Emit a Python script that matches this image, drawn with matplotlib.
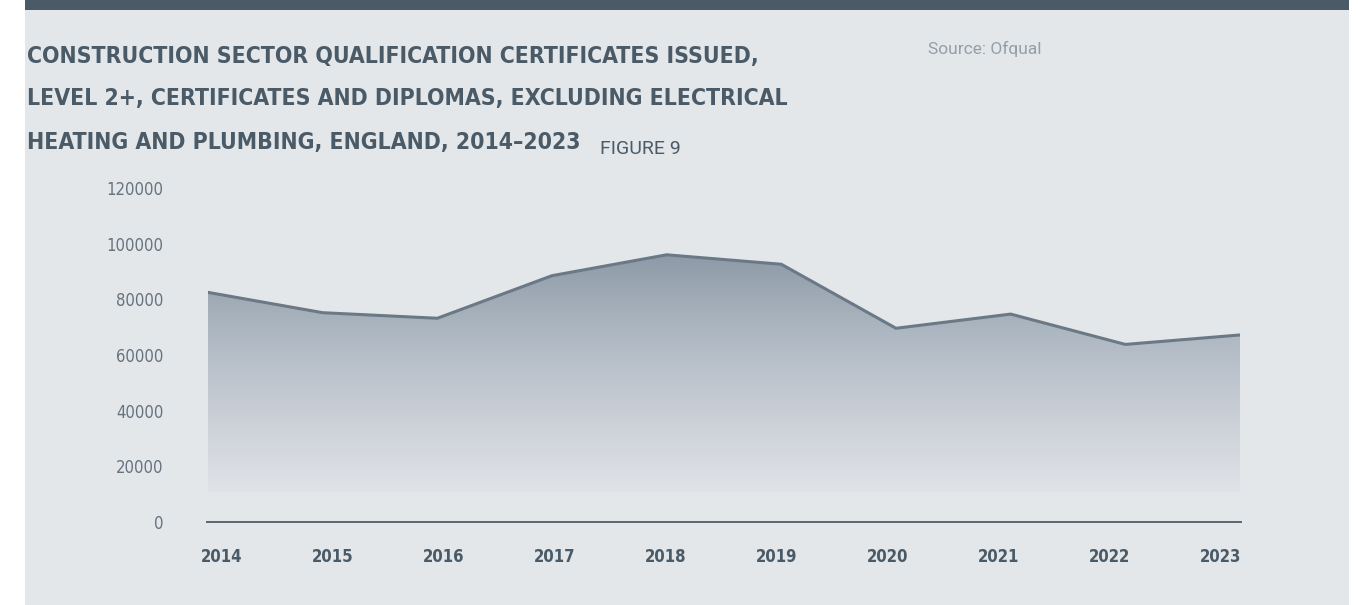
import numpy as np
import matplotlib
matplotlib.use("Agg")
from matplotlib import pyplot as plt
from matplotlib.patches import Rectangle
from matplotlib.colors import LinearSegmentedColormap

# data
years = [2014, 2015, 2016, 2017, 2018, 2019, 2020, 2021, 2022, 2023]
certificates = [82500, 75200, 73200, 88500, 96000, 92600, 69600, 74700, 63800, 67200]
y_ticks = [0, 20000, 40000, 60000, 80000, 100000, 120000]

title_lines = ["CONSTRUCTION SECTOR QUALIFICATION CERTIFICATES ISSUED,",
               "LEVEL 2+, CERTIFICATES AND DIPLOMAS, EXCLUDING ELECTRICAL",
               "HEATING AND PLUMBING, ENGLAND, 2014\u20132023"]

bg = "#e3e7ea"
dark = "#4b5a67"
narrow = ["DejaVu Sans"]

W, H = 1358, 605
fig = plt.figure(figsize=(W / 100, H / 100), dpi=100)
fig.patch.set_facecolor("white")

# grey panel and dark band at the top
fig.add_artist(Rectangle((25 / W, 0), 1324 / W, 1, transform=fig.transFigure,
                         facecolor=bg, edgecolor="none", zorder=0))
fig.add_artist(Rectangle((25 / W, 1 - 10 / H), 1324 / W, 10 / H, transform=fig.transFigure,
                         facecolor=dark, edgecolor="none", zorder=1))

# title
for i, line in enumerate(title_lines):
    fig.text(27 / W, 1 - (56 + 43 * i) / H, line, family=narrow, weight="bold",
             stretch="condensed", fontsize=16.5, color=dark, va="center", ha="left")
fig.text(600 / W, 1 - 149 / H, "FIGURE 9", family=["Roboto", "DejaVu Sans"],
         fontsize=14, color=dark, va="center", ha="left")
fig.text(928 / W, 1 - 49 / H, "Source: Ofqual", family=["Roboto", "DejaVu Sans"],
         fontsize=12.5, color="#959ea7", va="center", ha="left")

# plot area: 2014 at x=208, 2023 at x=1240, 0 at y=522, 120000 at y=188
ax = fig.add_axes([208 / W, 1 - 522 / H, 1032 / W, 334 / H])
ax.patch.set_alpha(0)

x = np.array(years, dtype=float)
y = np.array(certificates, dtype=float)
floor = 10800

# gradient fill clipped to area under the line
poly = ax.fill_between(x, y, floor, facecolor="none", edgecolor="none")
cmap = LinearSegmentedColormap.from_list("g", ["#e0e3e7", "#c9ced6", "#aeb8c2", "#8d9aa7"])
grad = np.linspace(0, 1, 256).reshape(-1, 1)
img = ax.imshow(grad, extent=[x[0], x[-1], floor, y.max()], origin="lower",
                aspect="auto", cmap=cmap, zorder=1, interpolation="bicubic")
img.set_clip_path(poly.get_paths()[0], transform=ax.transData)
ax.set_xlim(years[0], years[-1])
ax.set_ylim(0, 120000)

ax.plot(x, y, color="#6b7986", lw=2.2, zorder=3, solid_joinstyle="miter")

for s in ["top", "right", "left"]:
    ax.spines[s].set_visible(False)
ax.spines["bottom"].set_color("#5a6773")
ax.spines["bottom"].set_linewidth(1.4)
ax.spines["bottom"].set_bounds(years[0] - 0.01, years[-1] + 0.01)
ax.spines["bottom"].set_clip_on(False)

ax.set_yticks(y_ticks)
ax.set_yticklabels([str(v) for v in y_ticks], family=narrow, stretch="condensed",
                   fontsize=12, color="#66737f")
ax.tick_params(axis="y", length=0, pad=32)

# year labels sit on their own 111px spacing, starting at x=222
step = (years[-1] - years[0]) / 1032
label_pos = [years[0] + (14 + 111 * i) * step for i in range(len(years))]
ax.set_xticks(label_pos)
ax.set_xticklabels([str(v) for v in years], family=narrow, stretch="condensed",
                   fontsize=12, weight="bold", color=dark)
ax.tick_params(axis="x", length=0, pad=19)

fig.savefig("out.png", dpi=100, facecolor=fig.get_facecolor())
